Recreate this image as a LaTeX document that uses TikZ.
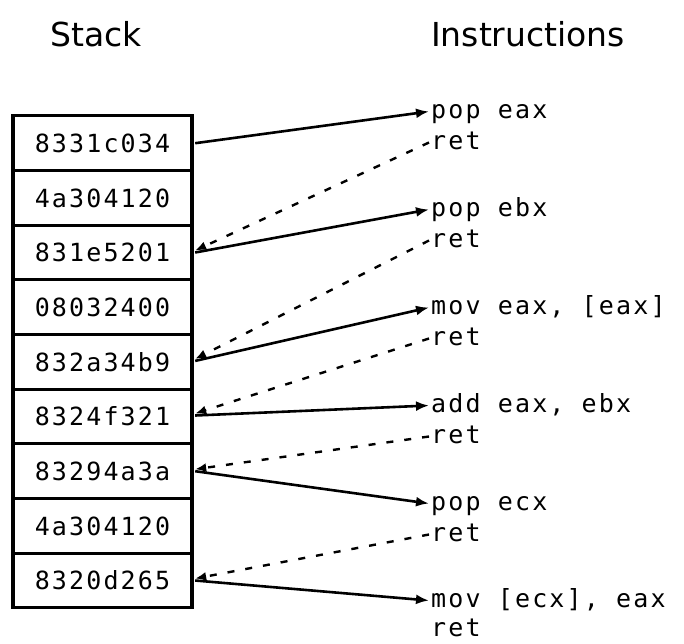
\documentclass[tikz,border=0pt]{standalone}
\usepackage{fontspec}
\setmainfont{DejaVu Sans}
\newfontfamily\codefont[LetterSpace=8.6]{DejaVu Sans Mono}
\usetikzlibrary{arrows.meta}
\begin{document}
\begin{tikzpicture}[x=1pt,y=-1pt,
  cell/.style={draw, line width=3.2pt, minimum width=179pt, minimum height=54.67pt,
    inner sep=0pt, text height=18.2pt, text depth=0pt,
    font=\codefont\fontsize{25}{25}\selectfont},
  instr/.style={anchor=base west, inner sep=0pt, font=\codefont\fontsize{25}{25}\selectfont},
  title/.style={anchor=base west, inner sep=0pt, font=\fontsize{33}{33}\selectfont},
  jump/.style={line width=2.6pt, -{Latex[length=13pt,width=10pt]}},
  back/.style={line width=2.4pt, dash pattern=on 7pt off 11pt, -{Latex[length=11pt,width=9pt]}}]
\useasboundingbox (0,0) rectangle (684,643);

\node[title] (tstack) at (50,46) {Stack};
\node[title] (tinstr) at (431,46) {Instructions};

\node[cell] (s1) at (102.5,143.2) {8331c034};
\node[cell] (s2) at (102.5,197.9) {4a304120};
\node[cell] (s3) at (102.5,252.5) {831e5201};
\node[cell] (s4) at (102.5,307.2) {08032400};
\node[cell] (s5) at (102.5,361.9) {832a34b9};
\node[cell] (s6) at (102.5,416.5) {8324f321};
\node[cell] (s7) at (102.5,471.2) {83294a3a};
\node[cell] (s8) at (102.5,525.9) {4a304120};
\node[cell] (s9) at (102.5,580.5) {8320d265};

\node[instr] (i1) at (431,118) {pop eax};
\node[instr] (r1) at (431,149) {ret};
\node[instr] (i2) at (431,216) {pop ebx};
\node[instr] (r2) at (431,247) {ret};
\node[instr] (i3) at (431,314) {mov eax, [eax]};
\node[instr] (r3) at (431,345) {ret};
\node[instr] (i4) at (431,412) {add eax, ebx};
\node[instr] (r4) at (431,443) {ret};
\node[instr] (i5) at (431,510) {pop ecx};
\node[instr] (r5) at (431,541) {ret};
\node[instr] (i6) at (431,607) {mov [ecx], eax};
\node[instr] (r6) at (431,636) {ret};

\draw[jump] ([xshift=1.6pt]s1.east) -- ([xshift=-2pt,yshift=6.5pt]i1.base west);
\draw[jump] ([xshift=1.6pt]s3.east) -- ([xshift=-2pt,yshift=6.5pt]i2.base west);
\draw[jump] ([xshift=1.6pt,yshift=1pt]s5.east) -- ([xshift=-2pt,yshift=6.5pt]i3.base west);
\draw[jump] ([xshift=1.6pt,yshift=1pt]s6.east) -- ([xshift=-2pt,yshift=6.5pt]i4.base west);
\draw[jump] ([xshift=1.6pt]s7.east) -- ([xshift=-2pt,yshift=6.5pt]i5.base west);
\draw[jump] ([xshift=1.6pt]s9.east) -- ([xshift=-2pt,yshift=6.5pt]i6.base west);

\draw[back] ([xshift=-2pt,yshift=6.5pt]r1.base west) -- ([xshift=1.6pt,yshift=2pt]s3.east);
\draw[back] ([xshift=-2pt,yshift=6.5pt]r2.base west) -- ([xshift=1.6pt,yshift=3pt]s5.east);
\draw[back] ([xshift=-2pt,yshift=6.5pt]r3.base west) -- ([xshift=1.6pt,yshift=3pt]s6.east);
\draw[back] ([xshift=-2pt,yshift=6.5pt]r4.base west) -- ([xshift=1.6pt,yshift=2pt]s7.east);
\draw[back] ([xshift=-2pt,yshift=6.5pt]r5.base west) -- ([xshift=1.6pt,yshift=2pt]s9.east);
\end{tikzpicture}
\end{document}
